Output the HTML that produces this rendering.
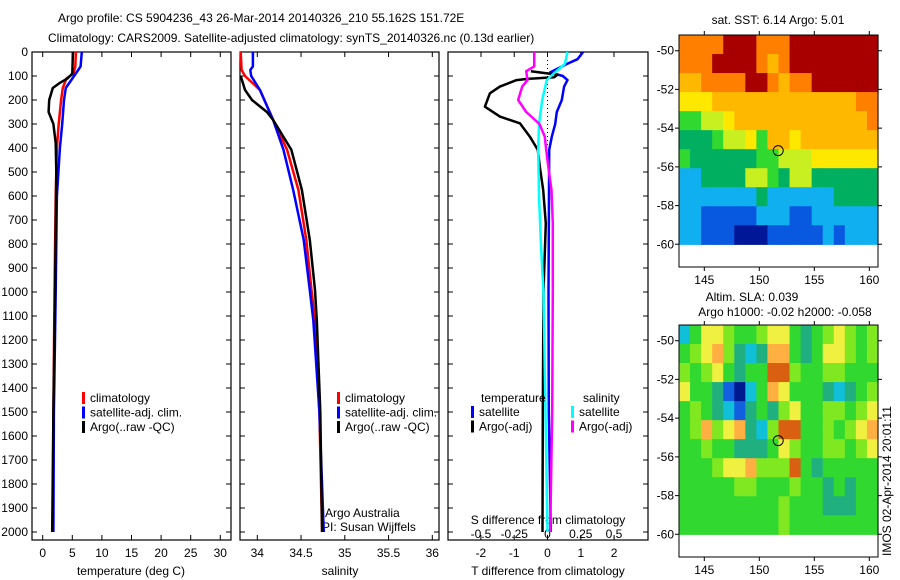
<!DOCTYPE html>
<html><head><meta charset="utf-8"><style>
body{margin:0;background:#fff}
svg{display:block;font-family:"Liberation Sans",sans-serif;font-size:12px}
</style></head><body>
<svg id="c" width="900" height="580" xmlns="http://www.w3.org/2000/svg">
<text x="58" y="22">Argo profile: CS 5904236_43 26-Mar-2014 20140326_210 55.162S 151.72E</text>
<text x="48" y="42">Climatology: CARS2009. Satellite-adjusted climatology: synTS_20140326.nc (0.13d earlier)</text>
<text x="131" y="575" text-anchor="middle">temperature (deg C)</text>
<text x="340" y="575" text-anchor="middle">salinity</text>
<text x="548" y="575" text-anchor="middle">T difference from climatology</text>
<text x="548" y="524" text-anchor="middle">S difference from climatology</text>
<text x="325" y="517">Argo Australia</text>
<text x="322" y="531">PI: Susan Wijffels</text>
<text x="778" y="24" text-anchor="middle">sat. SST: 6.14 Argo: 5.01</text>
<text x="752" y="301" text-anchor="middle">Altim. SLA: 0.039</text>
<text x="785" y="316" text-anchor="middle">Argo h1000: -0.02 h2000: -0.058</text>
<text transform="translate(891,556) rotate(-90)">IMOS 02-Apr-2014 20:01:11</text>
<g id="g"></g>
</svg>
<script>
// ---- data ----
const depthTicks=[0,100,200,300,400,500,600,700,800,900,1000,1100,1200,1300,1400,1500,1600,1700,1800,1900,2000];
const tempTicks=[0,5,10,15,20,25,30];
const salTicks=[34,34.5,35,35.5,36];
const tdiffTicks=[-2,-1,0,1,2];
const sdiffTicks=[-0.5,-0.25,0,0.25,0.5];
const sdiffLabels=["-0.5","-0.25","0","0.25","0.5"];
const tClimD=[0,60,90,110,150,200,300,400,600,1000,1500,2000];
const tClimV=[5.6,5.5,5.2,4.0,3.4,3.1,2.7,2.4,2.2,2.0,1.8,1.7];
const tSatD=[0,60,75,100,150,200,300,400,600,800,1000,1500,2000];
const tSatV=[6.6,6.4,6.0,5.3,3.9,3.6,3.3,2.9,2.4,2.3,2.2,1.9,1.8];
const tArgoD=[0,90,110,130,150,200,250,300,380,500,1000,1500,2000];
const tArgoV=[5.1,5.0,4.2,2.8,1.7,1.1,1.0,1.8,2.2,2.3,2.1,1.8,1.6];
const sClimD=[0,75,100,158,283,408,575,783,992,1117,1500,2000];
const sClimV=[33.81,33.82,33.86,34.03,34.18,34.34,34.47,34.56,34.62,34.66,34.71,34.74];
const sSatD=[0,60,75,100,158,283,408,575,783,992,1117,1500,1900,2000];
const sSatV=[33.95,33.95,33.92,33.93,34.03,34.18,34.30,34.41,34.53,34.60,34.64,34.71,34.75,34.76];
const sArgoD=[100,158,200,250,283,408,575,783,992,1117,1500,2000];
const sArgoV=[33.81,33.86,33.94,34.11,34.18,34.39,34.51,34.60,34.66,34.68,34.72,34.74];
const dTSatD=[0,30,50,85,100,117,144,200,250,300,353,408,1000,1500,2000];
const dTSatV=[1.07,0.9,0.58,0.08,0.46,0.6,0.5,0.43,0.28,0.23,0.13,0.05,0.03,0.04,0.1];
const dTArgoD=[80,95,105,112,117,144,172,228,269,297,353,408,478,575,714,1000,1500,2000];
const dTArgoV=[-0.5,0.3,0.2,-0.6,-0.93,-1.43,-1.73,-1.88,-1.43,-0.83,-0.53,-0.29,-0.23,-0.13,-0.05,-0.12,-0.14,-0.15];
const dSSatD=[0,50,85,117,200,300,408,600,800,1000,1500,2000];
const dSSatV=[0.15,0.13,0.056,-0.006,-0.04,-0.064,-0.07,-0.064,-0.05,-0.03,-0.015,0.0];
const dSArgoD=[0,60,80,117,144,200,250,300,353,408,478,575,714,1000,1500,2000];
const dSArgoV=[-0.1,-0.1,-0.16,-0.15,-0.19,-0.22,-0.16,-0.06,-0.02,-0.01,0.006,0.03,0.04,0.04,0.035,0.02];
const sstGrid=[
[8,8,8,8,9,9,9,8,8,8,9,9,9,9,9,9,9,9],
[8,8,8,9,9,9,9,8,7,8,9,9,9,9,9,9,9,9],
[7,7,8,8,8,8,9,9,8,7,8,8,9,9,9,9,9,9],
[6,6,6,7,7,7,7,7,7,7,7,7,7,7,7,7,8,8],
[4,4,5,5,6,7,7,7,7,7,7,7,7,7,7,7,7,8],
[3,3,3,4,5,5,6,4,7,7,6,7,7,7,7,7,7,7],
[4,3,3,3,3,3,3,4,4,5,5,5,6,6,6,6,6,6],
[2,2,3,3,3,3,5,5,4,3,5,5,3,3,3,3,3,3],
[2,2,2,2,2,2,2,3,2,2,2,2,2,2,3,3,3,3],
[2,2,1,1,1,1,1,2,2,2,1,1,2,2,2,2,2,2],
[2,2,1,1,1,0,0,0,1,1,1,1,1,2,1,2,2,2]];
const slaGrid=[
[2,4,6,6,5,4,4,5,6,6,4,3,4,5,6,5,4,5],
[4,5,6,7,5,3,2,3,7,7,4,3,4,6,6,5,4,5],
[5,4,5,6,4,3,4,4,8,8,5,4,4,5,5,4,4,4],
[6,4,4,3,1,0,2,4,7,6,4,4,4,3,2,3,4,5],
[4,5,4,3,2,1,3,4,3,5,6,4,4,5,5,4,5,6],
[4,5,7,5,6,7,3,2,5,8,8,4,4,5,4,5,6,7],
[4,4,5,4,4,3,3,3,4,6,5,4,4,5,5,4,5,6],
[4,4,4,5,6,6,7,5,5,5,8,4,3,4,4,4,4,4],
[4,4,4,4,4,5,5,4,4,4,5,4,4,3,4,3,4,4],
[4,4,4,4,4,4,4,4,4,5,4,4,4,3,3,3,4,4],
[4,4,4,4,4,4,4,4,4,5,4,4,4,4,4,4,4,4]];
const latTicks=[-50,-52,-54,-56,-58,-60];
const lonTicks=[145,150,155,160];
const floatPos=[151.72,-55.16];

// ---- drawing ----
const NS="http://www.w3.org/2000/svg";
const G=document.getElementById('g');
function mk(tag,at,parent){const e=document.createElementNS(NS,tag);for(const k in at)e.setAttribute(k,at[k]);(parent||G).appendChild(e);return e;}
const yD=d=>52+d*0.24;
const PT=52,PB=540;
const xT=v=>42.7+v*5.92;
const xS=v=>257.3+(v-34)*87.5;
const xdT=v=>547.5+v*33.3;
const xdS=v=>547.5+v*133;

function panel(x0,x1,name){
  const r=mk('rect',{x:x0,y:PT,width:x1-x0,height:PB-PT,fill:'none',stroke:'#000','stroke-width':1.2});
  
  
  depthTicks.forEach(d=>{
    const t=mk('path',{d:`M${x0},${yD(d)}h5M${x1},${yD(d)}h-5`,stroke:'#000'});
    
    
  });
}
panel(32,231,'temperature-panel');
panel(240,439,'salinity-panel');
panel(448,648,'difference-panel');
depthTicks.forEach(d=>{
  const t=mk('text',{x:28,y:yD(d)+4,'text-anchor':'end'});t.textContent=d;
  
  
});
function xticks(vals,labels,f,yLab){
  vals.forEach((v,i)=>{
    const x=f(v);
    const p=mk('path',{d:`M${x},${PB}v-5M${x},${PT}v5`,stroke:'#000'});
    
    
    const t=mk('text',{x:x,y:yLab,'text-anchor':'middle'});t.textContent=labels[i];
    
    
  });
}
xticks(tempTicks,tempTicks,xT,557);
xticks(salTicks,salTicks,xS,557);
tdiffTicks.forEach(v=>{
  const x=xdT(v);
  const p=mk('path',{d:`M${x},${PB}v-5`,stroke:'#000'});
  
  
  const t=mk('text',{x:x,y:557,'text-anchor':'middle'});t.textContent=v;
  
  
});
sdiffTicks.forEach(v=>{const p=mk('path',{d:`M${xdS(v)},${PT}v5`,stroke:'#000'});
  
  });
sdiffTicks.forEach((v,i)=>{const t=mk('text',{x:xdS(v),y:538,'text-anchor':'middle'});t.textContent=sdiffLabels[i];
  
  });
const z=mk('line',{x1:xdT(0),x2:xdT(0),y1:PT,y2:yD(400),stroke:'#000','stroke-dasharray':'1,3'});



function line(D,V,f,col,w,name){
  const pts=D.map((d,i)=>f(V[i]).toFixed(1)+','+yD(d).toFixed(1)).join(' ');
  const p=mk('polyline',{points:pts,fill:'none',stroke:col,'stroke-width':w,'stroke-linejoin':'round'});
  
  
}
line(tClimD,tClimV,xT,'#f00',2.5,'temp-climatology-line');
line(tSatD,tSatV,xT,'#00f',2.5,'temp-satellite-line');
line(tArgoD,tArgoV,xT,'#000',2.5,'temp-argo-line');
line(sClimD,sClimV,xS,'#f00',2.5,'sal-climatology-line');
line(sSatD,sSatV,xS,'#00f',2.5,'sal-satellite-line');
line(sArgoD,sArgoV,xS,'#000',2.5,'sal-argo-line');
line(dTSatD,dTSatV,xdT,'#00f',2.5,'tdiff-satellite-line');
line(dTArgoD,dTArgoV,xdT,'#000',2.5,'tdiff-argo-line');
line(dSSatD,dSSatV,xdS,'#0ff',2.5,'sdiff-satellite-line');
line(dSArgoD,dSArgoV,xdS,'#f0f',2.5,'sdiff-argo-line');

function legend(x,y,items,nm){
  items.forEach((it,i)=>{
    const yy=y+i*14.5;
    const b=mk('rect',{x:x,y:yy-9,width:3,height:12,fill:it[1]});
    
    
    const t=mk('text',{x:x+8,y:yy+1});t.textContent=it[0];
    
    
  });
}
const L=[['climatology','#f00'],['satellite-adj. clim.','#00f'],['Argo(..raw -QC)','#000']];
legend(82,401,L,'temp-legend');
legend(337,401,L,'sal-legend');
legend(471,415,[['satellite','#00f'],['Argo(-adj)','#000']],'tdiff-legend');
legend(571,415,[['satellite','#0ff'],['Argo(-adj)','#f0f']],'sdiff-legend');
[['temperature',481],['salinity',583]].forEach(a=>{const t=mk('text',{x:a[1],y:402});t.textContent=a[0];
  
  });

// maps
const sstPal=['#001898','#0858e0','#10b0f0','#00b060','#30d830','#c8f020','#ffe800','#ffb800','#ff8000','#a80000'];
const slaPal=['#001890','#1060e0','#10c0d8','#20b080','#30d830','#80e820','#f0f040','#ffb040','#d86010','#a03000'];
function map(y0,grid,pal,name){
  const x0=679,x1=878,y1=y0+232;
  const lx=v=>704.3+(v-145)*11, ly=v=>y0+15.7+(-50-v)*19.36;
  const cw=(x1-x0)/18, top=y0, bot=ly(-60), ch=(bot-top)/11;
  grid.forEach((row,r)=>row.forEach((v,c)=>{
    const e=mk('rect',{x:(x0+c*cw).toFixed(2),y:(top+r*ch).toFixed(2),width:(cw+0.6).toFixed(2),height:(ch+0.6).toFixed(2),fill:pal[v]});
    
    
  }));
  const fr=mk('rect',{x:x0,y:y0,width:x1-x0,height:y1-y0,fill:'none',stroke:'#000'});
  
  
  latTicks.forEach(v=>{
    const p=mk('path',{d:`M${x0},${ly(v)}h-4M${x1},${ly(v)}h4`,stroke:'#000'});
    
    
    const t=mk('text',{x:x0-5,y:ly(v)+4,'text-anchor':'end'});t.textContent=v;
    
    
  });
  lonTicks.forEach(v=>{
    const p=mk('path',{d:`M${lx(v)},${y0}v-4M${lx(v)},${y1}v4`,stroke:'#000'});
    
    
    const t=mk('text',{x:lx(v),y:y1+17,'text-anchor':'middle'});t.textContent=v;
    
    
  });
  const c=mk('circle',{cx:lx(floatPos[0]),cy:ly(floatPos[1]),r:5,fill:'none',stroke:'#000'});
  
  
}
map(35,sstGrid,sstPal,'sst-map');
map(325,slaGrid,slaPal,'sla-map');
</script>
</body></html>
